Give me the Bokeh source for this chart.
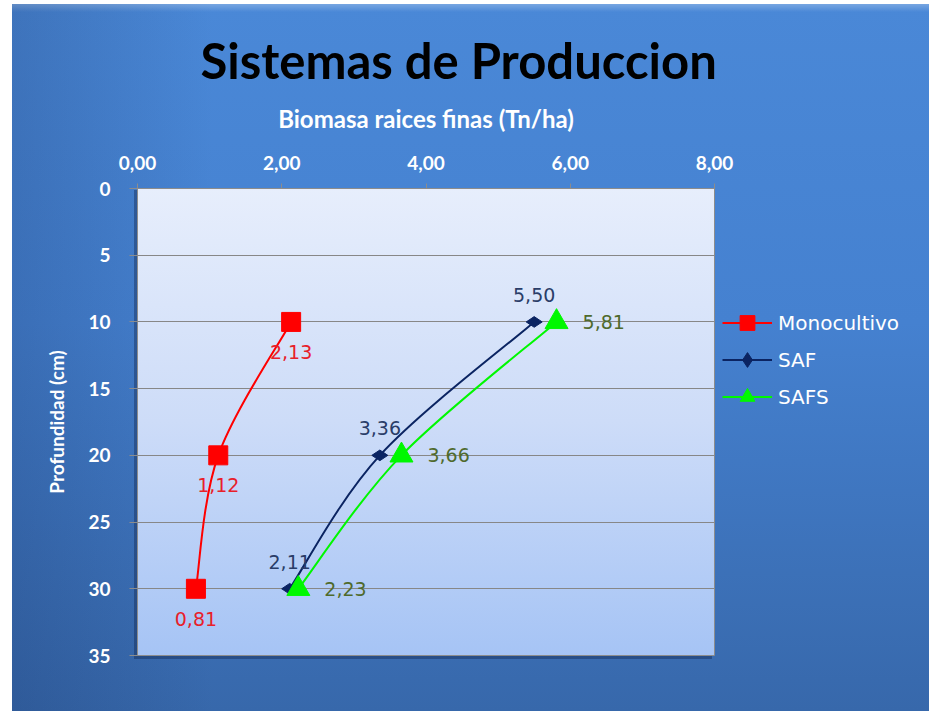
import numpy as np
from bokeh.plotting import figure
from bokeh.models import (Range1d, Legend, LegendItem, ColumnDataSource,
                          FixedTicker, Title)
from bokeh.core.properties import value
from bokeh.embed import file_html
from bokeh.resources import INLINE

# Fine-root biomass (Tn/ha) by soil depth (cm) for each production system
depth = [10, 20, 30]
monocultivo = [2.13, 1.12, 0.81]
saf = [5.50, 3.36, 2.11]
safs = [5.81, 3.66, 2.23]

x_ticks = [0, 2, 4, 6, 8]
x_tick_labels = ["0,00", "2,00", "4,00", "6,00", "8,00"]
y_ticks = [0, 5, 10, 15, 20, 25, 30, 35]

TITLE_FONT = "Lato"
LABEL_FONT = "DejaVu Sans"

FRAME_W, FRAME_H = 577, 467
LEFT, TOP, RIGHT, BOTTOM = 137, 188, 215, 56


def fmt(v):
    return f"{v:.2f}".replace(".", ",")


def smooth_segments(xs, ys):
    """Cubic Bezier pieces through the points (Catmull-Rom tangents)."""
    px = [xs[0]] + list(xs) + [xs[-1]]
    py = [ys[0]] + list(ys) + [ys[-1]]
    seg = dict(x0=[], y0=[], x1=[], y1=[], cx0=[], cy0=[], cx1=[], cy1=[])
    for i in range(1, len(px) - 2):
        seg["x0"].append(px[i])
        seg["y0"].append(py[i])
        seg["x1"].append(px[i + 1])
        seg["y1"].append(py[i + 1])
        seg["cx0"].append(px[i] + (px[i + 1] - px[i - 1]) / 6)
        seg["cy0"].append(py[i] + (py[i + 1] - py[i - 1]) / 6)
        seg["cx1"].append(px[i + 1] - (px[i + 2] - px[i]) / 6)
        seg["cy1"].append(py[i + 1] - (py[i + 2] - py[i]) / 6)
    return seg


outer_bg = ", ".join([
    # plot-area gradient
    f"linear-gradient(to bottom, #e7eefc 0%, #cddcf8 50%, #a6c4f5 100%) {LEFT}px {TOP}px / {FRAME_W}px {FRAME_H}px no-repeat",
    # drop shadow behind the plot area
    f"linear-gradient(rgba(15,35,75,0.40), rgba(15,35,75,0.40)) {LEFT - 3}px {TOP + 2}px / {FRAME_W + 1}px {FRAME_H + 2}px no-repeat",
    # darker left side of the chart panel
    "linear-gradient(to right, rgba(15,35,80,0.20) 0%, rgba(15,35,80,0) 22%) 12px 4px / 917px 707px no-repeat",
    # light bevel at the top edge
    "linear-gradient(to bottom, rgba(255,255,255,0.25) 0px, rgba(255,255,255,0) 8px) 12px 4px / 917px 707px no-repeat",
    "linear-gradient(to bottom, #4a88d7 0%, #4581d0 45%, #3768ab 100%) 12px 4px / 917px 707px no-repeat",
    "#ffffff",
])

p = figure(
    frame_width=FRAME_W, frame_height=FRAME_H,
    min_border_left=LEFT, min_border_right=RIGHT,
    min_border_top=TOP, min_border_bottom=BOTTOM,
    x_range=Range1d(0, 8), y_range=Range1d(35, 0),
    x_axis_location="above",
    output_backend="svg", toolbar_location=None,
    border_fill_alpha=0, background_fill_alpha=0,
    outline_line_color="#8c8c8c", outline_line_width=1,
    styles={"background": outer_bg},
)

# title
p.title = Title(text="Sistemas de Produccion", align="left", offset=63,
                text_font=TITLE_FONT, text_font_size="49px",
                text_font_style="bold", text_color="#000000", standoff=24)

# axes
xa = p.xaxis[0]
xa.ticker = FixedTicker(ticks=x_ticks)
xa.major_label_overrides = {t_: l_ for t_, l_ in zip(x_ticks, x_tick_labels)}
xa.axis_label = "Biomasa raices finas (Tn/ha)"
xa.axis_label_text_font = TITLE_FONT
xa.axis_label_text_font_style = "bold"
xa.axis_label_text_font_size = "24px"
xa.axis_label_text_color = "white"
xa.axis_label_standoff = 20
xa.major_label_text_font = TITLE_FONT
xa.major_label_text_font_style = "bold"
xa.major_label_text_font_size = "19px"
xa.major_label_text_color = "white"
xa.major_label_standoff = 14
xa.major_tick_in = 0
xa.major_tick_out = 5
xa.minor_tick_out = 0
xa.minor_tick_in = 0
xa.major_tick_line_color = "#8c8c8c"
xa.axis_line_color = "#8c8c8c"

ya = p.yaxis[0]
ya.ticker = FixedTicker(ticks=y_ticks)
ya.axis_label = "Profundidad (cm)"
ya.axis_label_text_font = TITLE_FONT
ya.axis_label_text_font_style = "bold"
ya.axis_label_text_font_size = "19px"
ya.axis_label_text_color = "white"
ya.axis_label_standoff = 17
ya.major_label_text_font = TITLE_FONT
ya.major_label_text_font_style = "bold"
ya.major_label_text_font_size = "19px"
ya.major_label_text_color = "white"
ya.major_label_standoff = 19
ya.major_tick_in = 0
ya.major_tick_out = 8
ya.minor_tick_out = 0
ya.minor_tick_in = 0
ya.major_tick_line_color = "#8c8c8c"
ya.axis_line_color = "#8c8c8c"

p.xgrid.visible = False
p.ygrid.ticker = FixedTicker(ticks=y_ticks)
p.ygrid.grid_line_color = "#878787"
p.ygrid.grid_line_width = 1

series = [
    ("Monocultivo", monocultivo, "#ff0000", "#e8202a", "square", 19, 0.0),
    ("SAF", saf, "#0b2462", "#2a3d68", "diamond", 16, np.pi / 2),
    ("SAFS", safs, "#00f800", "#4f6a2c", "triangle", 23, 0.0),
]

items = []
for name, vals, color, lab_color, marker, size, ang in series:
    seg = ColumnDataSource(smooth_segments(vals, depth))
    br = p.bezier(x0="x0", y0="y0", x1="x1", y1="y1", cx0="cx0", cy0="cy0",
                  cx1="cx1", cy1="cy1", source=seg, line_color=color, line_width=2)
    src = ColumnDataSource(dict(x=vals, y=depth, lab=[fmt(v) for v in vals]))
    sr = p.scatter("x", "y", source=src, marker=marker, size=size, angle=ang,
                   fill_color=color, line_color=color)
    items.append(LegendItem(label=name, renderers=[br, sr]))

    if name == "Monocultivo":
        kw = dict(x_offset=0, y_offset=30, text_align="center")
    elif name == "SAF":
        kw = dict(x_offset=0, y_offset=-27, text_align="center")
    else:
        kw = dict(x_offset=26, y_offset=0, text_align="left")
    p.text("x", "y", text="lab", source=src, text_baseline="middle",
           text_font=value(LABEL_FONT), text_font_size="19px",
           text_color=lab_color, **kw)

legend = Legend(items=items, location=(8, 240), orientation="vertical",
                border_line_alpha=0, background_fill_alpha=0,
                label_text_color="white", label_text_font=LABEL_FONT,
                label_text_font_size="20px",
                glyph_width=50, glyph_height=37,
                label_height=20, spacing=0, padding=0, margin=0,
                label_standoff=6)
p.add_layout(legend, "right")

open("out.html", "w").write(file_html(p, INLINE))
